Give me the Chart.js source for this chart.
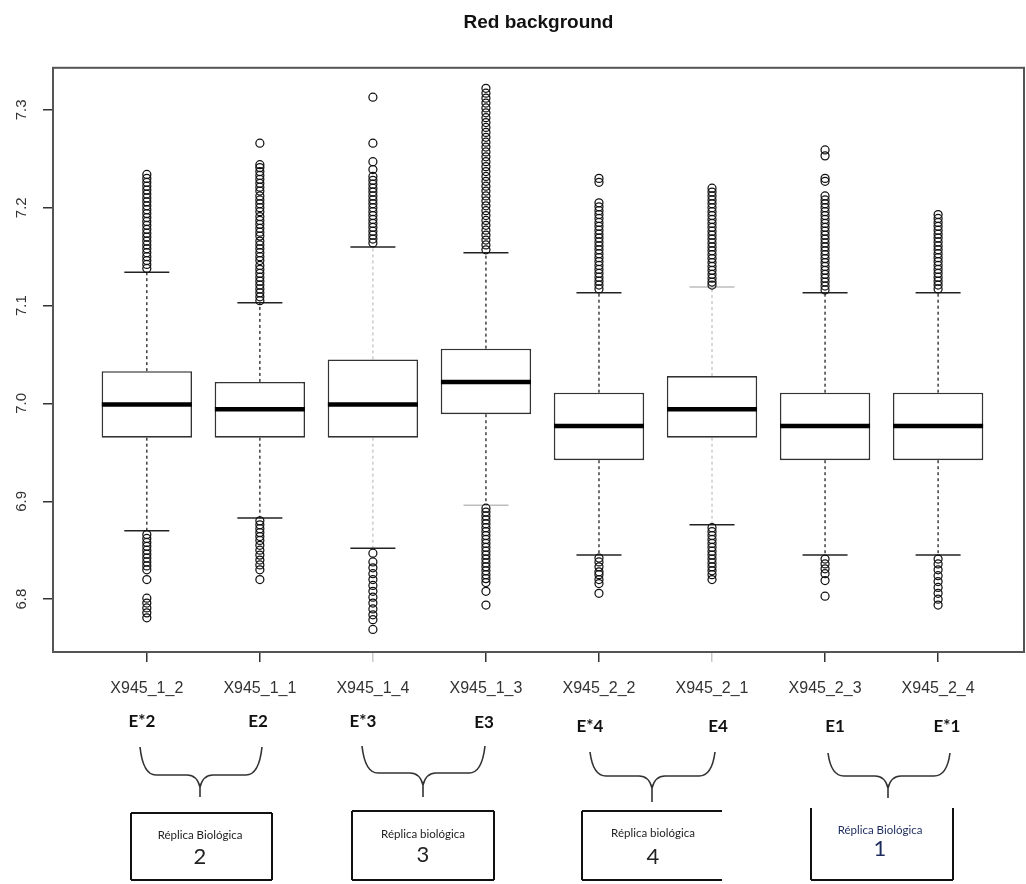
<!DOCTYPE html>
<html>
<head>
<meta charset="utf-8">
<script src="https://cdn.jsdelivr.net/npm/chart.js@4/dist/chart.umd.min.js"></script>
<style>
  html, body { margin: 0; padding: 0; background: #fff; }
  canvas { display: block; }
</style>
</head>
<body>
<canvas id="chart" width="1026" height="884"></canvas>
<script>
// ---- data ----
const categories = ['X945_1_2', 'X945_1_1', 'X945_1_4', 'X945_1_3', 'X945_2_2', 'X945_2_1', 'X945_2_3', 'X945_2_4'];
const whiskerLow  = [6.870, 6.883, 6.852, 6.896, 6.845, 6.876, 6.845, 6.845];
const q1Values    = [6.965, 6.965, 6.965, 6.989, 6.942, 6.965, 6.942, 6.942];
const medianValues = [6.999, 6.994, 6.999, 7.022, 6.977, 6.994, 6.977, 6.977];
const q3Values    = [7.033, 7.022, 7.045, 7.056, 7.011, 7.028, 7.011, 7.011];
const whiskerHigh = [7.134, 7.103, 7.160, 7.154, 7.113, 7.119, 7.113, 7.113];

const outliers1 = [7.234, 7.230, 7.226, 7.222, 7.218, 7.214, 7.210, 7.206, 7.202, 7.198, 7.194, 7.190, 7.186, 7.182, 7.178,
  7.174, 7.170, 7.166, 7.162, 7.158, 7.154, 7.150, 7.146, 7.142, 7.138,
  6.866, 6.862, 6.858, 6.854, 6.850, 6.846, 6.842, 6.838, 6.834, 6.830, 6.820, 6.801, 6.796, 6.791, 6.786, 6.781];
const outliers2 = [7.266, 7.244, 7.241, 7.237, 7.233, 7.229, 7.225, 7.221, 7.217, 7.212, 7.208, 7.204, 7.200, 7.196, 7.191,
  7.187, 7.183, 7.179, 7.175, 7.171, 7.166, 7.162, 7.158, 7.154, 7.150, 7.146, 7.141, 7.137, 7.133, 7.129, 7.125,
  7.121, 7.117, 7.113, 7.109, 7.105,
  6.880, 6.876, 6.872, 6.868, 6.864, 6.860, 6.855, 6.850, 6.845, 6.840, 6.835, 6.830, 6.820];
const outliers3 = [7.313, 7.266, 7.247, 7.239, 7.232, 7.228, 7.224, 7.220, 7.216, 7.212, 7.208, 7.204, 7.200, 7.196, 7.192,
  7.188, 7.184, 7.180, 7.176, 7.172, 7.168, 7.164,
  6.847, 6.838, 6.832, 6.826, 6.820, 6.814, 6.808, 6.802, 6.796, 6.790, 6.784, 6.779, 6.769];
const outliers4 = [7.322, 7.317, 7.312, 7.307, 7.302, 7.297, 7.292, 7.287, 7.282, 7.277, 7.272, 7.267, 7.262, 7.257, 7.252,
  7.247, 7.242, 7.237, 7.232, 7.227, 7.222, 7.217, 7.212, 7.207, 7.202, 7.197, 7.192, 7.187, 7.182, 7.177, 7.172,
  7.167, 7.162, 7.157,
  6.893, 6.889, 6.885, 6.881, 6.877, 6.873, 6.869, 6.865, 6.861, 6.857, 6.853, 6.849, 6.845, 6.841, 6.837, 6.833,
  6.829, 6.825, 6.821, 6.817, 6.808, 6.794];
const outliers5 = [7.230, 7.226, 7.205, 7.201, 7.197, 7.193, 7.189, 7.185, 7.181, 7.177, 7.173, 7.169, 7.165, 7.161, 7.157,
  7.153, 7.149, 7.145, 7.141, 7.137, 7.133, 7.129, 7.125, 7.121, 7.117,
  6.842, 6.838, 6.833, 6.828, 6.825, 6.820, 6.816, 6.806];
const outliers6 = [7.220, 7.216, 7.212, 7.208, 7.204, 7.200, 7.196, 7.192, 7.188, 7.184, 7.180, 7.176, 7.172, 7.168, 7.164,
  7.160, 7.156, 7.152, 7.148, 7.144, 7.140, 7.136, 7.132, 7.128, 7.124, 7.121,
  6.873, 6.869, 6.865, 6.861, 6.857, 6.853, 6.849, 6.845, 6.841, 6.837, 6.833, 6.829, 6.825, 6.820];
const outliers7 = [7.259, 7.253, 7.230, 7.227, 7.212, 7.208, 7.204, 7.200, 7.196, 7.192, 7.188, 7.184, 7.180, 7.176, 7.172,
  7.168, 7.164, 7.160, 7.156, 7.152, 7.148, 7.144, 7.140, 7.136, 7.132, 7.128, 7.124, 7.120, 7.116,
  6.841, 6.836, 6.831, 6.826, 6.819, 6.803];
const outliers8 = [7.193, 7.189, 7.185, 7.181, 7.177, 7.173, 7.169, 7.165, 7.161, 7.157, 7.153, 7.149, 7.145, 7.141, 7.137,
  7.133, 7.129, 7.125, 7.121, 7.117,
  6.841, 6.836, 6.830, 6.824, 6.818, 6.812, 6.806, 6.800, 6.794];

const yTickValues = [6.8, 6.9, 7.0, 7.1, 7.2, 7.3];
const yTickLabels = ['6.8', '6.9', '7.0', '7.1', '7.2', '7.3'];

const pairTags = ['E*2', 'E2', 'E*3', 'E3', 'E*4', 'E4', 'E1', 'E*1'];
const replicaTitles = ['Réplica Biológica', 'Réplica biológica', 'Réplica biológica', 'Réplica Biológica'];
const replicaNumbers = ['2', '3', '4', '1'];

// ---- styling (kept apart from the values) ----
const whiskerShade = ['#222', '#222', '#c4c4c4', '#222', '#222', '#c4c4c4', '#222', '#222'];
const capHighShade = ['#222', '#222', '#222', '#222', '#222', '#bdbdbd', '#222', '#222'];
const capLowShade  = ['#222', '#222', '#222', '#bdbdbd', '#222', '#222', '#222', '#222'];
const xTickShade   = ['#333', '#333', '#c8c8c8', '#333', '#333', '#c8c8c8', '#333', '#333'];

// ---- derived datasets ----
const positions = categories.map((c, i) => i + 1);
const boxData = positions.map((x, i) => ({ x, y: [q1Values[i], q3Values[i]] }));
const medianData = positions.map((x, i) => ({ x, y: medianValues[i] }));
const capHighData = positions.map((x, i) => ({ x, y: whiskerHigh[i] }));
const capLowData = positions.map((x, i) => ({ x, y: whiskerLow[i] }));
const whiskerData = [];
positions.forEach((x, i) => {
  whiskerData.push({ x, y: q3Values[i] }, { x, y: whiskerHigh[i] }, { x, y: null });
  whiskerData.push({ x, y: q1Values[i] }, { x, y: whiskerLow[i] }, { x, y: null });
});
const outlierData = [];
[outliers1, outliers2, outliers3, outliers4, outliers5, outliers6, outliers7, outliers8].forEach((list, i) => {
  list.forEach(v => outlierData.push({ x: i + 1, y: v }));
});

// frame around the plotting region
const frame = {
  id: 'frame',
  afterDatasetsDraw(chart) {
    const { ctx, chartArea: a } = chart;
    ctx.save();
    ctx.strokeStyle = '#555';
    ctx.lineWidth = 2;
    ctx.strokeRect(a.left, a.top, a.right - a.left, a.bottom - a.top);
    ctx.restore();
  }
};

// sample tags, braces and replicate boxes under the axis
const tagLayout = { x: [142, 258, 363, 484, 590, 718, 835, 947], y: [722, 722, 722, 723, 727, 727, 727, 727] };
const braceLayout = [
  { x1: 140, x2: 262, cx: 200, top: 747, mid: 775, tip: 797 },
  { x1: 362, x2: 485, cx: 423, top: 746, mid: 773, tip: 797 },
  { x1: 590, x2: 715, cx: 652, top: 752, mid: 776, tip: 802 },
  { x1: 828, x2: 950, cx: 888, top: 753, mid: 776, tip: 798 }
];
const panelLayout = [
  { left: 131, right: 272, top: 813, bottom: 880, sides: 'tlrb', cx: 200, ty: 835, ny: 857, color: '#222' },
  { left: 352, right: 494, top: 811, bottom: 880, sides: 'tlrb', cx: 423, ty: 834, ny: 855, color: '#222' },
  { left: 582, right: 722, top: 811, bottom: 880, sides: 'tlb', cx: 653, ty: 833, ny: 857, color: '#222' },
  { left: 811, right: 953, top: 808, bottom: 880, sides: 'lrb', cx: 880, ty: 830, ny: 849, color: '#1c2b5e' }
];

function drawBrace(ctx, b) {
  ctx.beginPath();
  ctx.moveTo(b.x1, b.top);
  ctx.quadraticCurveTo(b.x1 + 3, b.mid, b.x1 + 16, b.mid);
  ctx.lineTo(b.cx - 13, b.mid);
  ctx.quadraticCurveTo(b.cx - 3, b.mid, b.cx, b.mid + 12);
  ctx.lineTo(b.cx, b.tip);
  ctx.moveTo(b.x2, b.top);
  ctx.quadraticCurveTo(b.x2 - 3, b.mid, b.x2 - 16, b.mid);
  ctx.lineTo(b.cx + 13, b.mid);
  ctx.quadraticCurveTo(b.cx + 3, b.mid, b.cx, b.mid + 12);
  ctx.stroke();
}

const notes = {
  id: 'replicaNotes',
  afterDraw(chart) {
    const ctx = chart.ctx;
    ctx.save();
    ctx.textAlign = 'center';
    ctx.textBaseline = 'middle';
    ctx.fillStyle = '#111';
    ctx.font = 'bold 17px Lato, "Liberation Sans", sans-serif';
    pairTags.forEach((t, i) => ctx.fillText(t, tagLayout.x[i], tagLayout.y[i]));

    ctx.strokeStyle = '#333';
    ctx.lineWidth = 1.6;
    braceLayout.forEach(b => drawBrace(ctx, b));

    ctx.lineWidth = 2;
    ctx.strokeStyle = '#111';
    panelLayout.forEach((p, i) => {
      ctx.beginPath();
      if (p.sides.includes('t')) { ctx.moveTo(p.left, p.top); ctx.lineTo(p.right, p.top); }
      if (p.sides.includes('l')) { ctx.moveTo(p.left, p.top); ctx.lineTo(p.left, p.bottom); }
      if (p.sides.includes('r')) { ctx.moveTo(p.right, p.top); ctx.lineTo(p.right, p.bottom); }
      if (p.sides.includes('b')) { ctx.moveTo(p.left, p.bottom); ctx.lineTo(p.right, p.bottom); }
      ctx.stroke();
      ctx.fillStyle = p.color;
      ctx.font = '11.5px Lato, "Liberation Sans", sans-serif';
      ctx.fillText(replicaTitles[i], p.cx, p.ty);
      ctx.font = '22px Lato, "Liberation Sans", sans-serif';
      ctx.fillText(replicaNumbers[i], p.cx, p.ny);
    });
    ctx.restore();
  }
};

Chart.defaults.font.family = '"Liberation Sans", Arial, sans-serif';

new Chart(document.getElementById('chart'), {
  type: 'bar',
  data: {
    datasets: [
      {
        type: 'scatter',
        label: 'outliers',
        data: outlierData,
        pointStyle: 'circle',
        pointRadius: 4,
        pointBorderWidth: 1.25,
        pointBorderColor: '#111',
        pointBackgroundColor: 'rgba(0,0,0,0)',
        order: 1
      },
      {
        type: 'scatter',
        label: 'median',
        data: medianData,
        pointStyle: 'line',
        pointRadius: 45,
        pointBorderWidth: 4.5,
        pointBorderColor: '#000',
        order: 2
      },
      {
        type: 'bar',
        label: 'IQR',
        data: boxData,
        backgroundColor: '#fff',
        borderColor: '#333',
        borderWidth: 1.6,
        borderSkipped: false,
        categoryPercentage: 0.8,
        barPercentage: 1,
        order: 3
      },
      {
        type: 'scatter',
        label: 'upper cap',
        data: capHighData,
        pointStyle: 'line',
        pointRadius: 22.5,
        pointBorderWidth: 1.5,
        pointBorderColor: ctx => capHighShade[ctx.dataIndex],
        order: 4
      },
      {
        type: 'scatter',
        label: 'lower cap',
        data: capLowData,
        pointStyle: 'line',
        pointRadius: 22.5,
        pointBorderWidth: 1.5,
        pointBorderColor: ctx => capLowShade[ctx.dataIndex],
        order: 4
      },
      {
        type: 'line',
        label: 'whiskers',
        data: whiskerData,
        borderColor: '#222',
        borderWidth: 1.3,
        borderDash: [3, 3],
        pointRadius: 0,
        spanGaps: false,
        segment: {
          borderColor: ctx => whiskerShade[Math.round(ctx.p0.parsed.x) - 1]
        },
        order: 5
      }
    ]
  },
  options: {
    responsive: false,
    animation: false,
    devicePixelRatio: 1,
    events: [],
    layout: { autoPadding: false, padding: { left: 0, right: 2, top: 0, bottom: 0 } },
    plugins: {
      legend: { display: false },
      tooltip: { enabled: false },
      title: {
        display: true,
        text: 'Red background',
        fullSize: false,
        color: '#111',
        font: { size: 19, weight: 'bold' },
        padding: { top: 11, bottom: 34 }
      }
    },
    scales: {
      x: {
        type: 'linear',
        min: 0.17,
        max: 8.76,
        offset: false,
        border: { display: false },
        grid: {
          offset: false,
          drawOnChartArea: false,
          drawTicks: true,
          tickLength: 10,
          lineWidth: 1.5,
          color: ctx => xTickShade[ctx.index] || '#333'
        },
        afterBuildTicks: scale => { scale.ticks = positions.map(v => ({ value: v })); },
        afterFit: scale => {
          scale.height = 232;
          scale.paddingLeft = 0;
          scale.paddingRight = 0;
        },
        ticks: {
          autoSkip: false,
          maxRotation: 0,
          minRotation: 0,
          padding: 17,
          color: '#333',
          font: { size: 16 },
          callback: (v, i) => categories[i]
        }
      },
      y: {
        type: 'linear',
        min: 6.746,
        max: 7.343,
        border: { display: false },
        grid: {
          drawOnChartArea: false,
          drawTicks: true,
          tickLength: 10,
          lineWidth: 1.5,
          color: '#333'
        },
        afterBuildTicks: scale => { scale.ticks = yTickValues.map(v => ({ value: v })); },
        afterFit: scale => {
          scale.width = 53;
          scale.paddingTop = 0;
          scale.paddingBottom = 0;
        },
        ticks: {
          minRotation: 90,
          maxRotation: 90,
          crossAlign: 'center',
          padding: 11,
          color: '#333',
          font: { size: 15 },
          callback: (v, i) => yTickLabels[i]
        }
      }
    }
  },
  plugins: [frame, notes]
});
</script>
</body>
</html>
